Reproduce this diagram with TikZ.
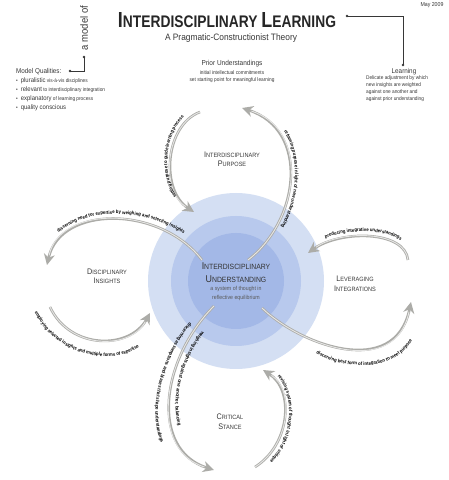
\documentclass[tikz,border=0pt]{standalone}
\usepackage{fontspec}
\setmainfont{Liberation Sans}[FakeStretch=0.9]
\usepackage{graphicx}
\usetikzlibrary{decorations.text,arrows.meta}
\definecolor{ringA}{RGB}{212,223,243}
\definecolor{ringB}{RGB}{184,201,237}
\definecolor{ringC}{RGB}{163,184,231}
\definecolor{arrowgray}{RGB}{172,172,168}
\definecolor{txtgray}{RGB}{55,55,55}
\newcommand\Ini[1]{\scalebox{1.3}{#1}}
\newcommand\arrowfont{\fontsize{4.8}{5}\selectfont\bfseries}
\tikzset{
  arw/.style={draw=arrowgray, line width=2.6pt, -{Stealth[length=11pt,width=11pt,inset=3.5pt]},
     postaction={draw=white!70!arrowgray, line width=0.9pt, -, shorten >=10pt}},
  atext/.style={decorate, decoration={text along path, text={|\arrowfont|#1}, text align=center}},
  lbl/.style={font=\fontsize{6.2}{9}\selectfont, align=center, text=txtgray, inner sep=0pt},
  small/.style={font=\fontsize{5.3}{7}\selectfont, text=txtgray, inner sep=0pt},
  dotc/.style={fill=txtgray},
}
\begin{document}
\begin{tikzpicture}[x=1pt,y=1pt]
\useasboundingbox (0,0) rectangle (448,480);
% circles
\node[circle, fill=ringA, minimum size=176pt, inner sep=0pt] (ringout) at (236,199) {};
\node[circle, fill=ringB, minimum size=130pt, inner sep=0pt] (ringmid) at (236,199) {};
\node[circle, fill=ringC, minimum size=96pt, inner sep=0pt] (ringin) at (236,199) {};
% title
\node[text=black!85, inner sep=0pt] (title) at (227,460) {\resizebox{218pt}{15pt}{\bfseries \Ini{I}NTERDISCIPLINARY \Ini{L}EARNING}};
\node[text=txtgray, inner sep=0pt] (subtitle) at (231,442) {\resizebox{132pt}{!}{\fontsize{10}{10}\selectfont A Pragmatic-Constructionist Theory}};
\node[small, font=\fontsize{5.8}{6}\selectfont] (date) at (432,475) {May 2009};
% learning connector
\coordinate (tdot) at (347,464);
\coordinate (ldot) at (403,415);
\draw[txtgray, line width=0.6pt] (tdot) -| (ldot);
\fill[dotc] (tdot) circle (1.4pt);
\fill[dotc] (ldot) circle (1.4pt);
\node[small, font=\fontsize{7}{7}\selectfont] (learn) at (404,408) {Learning};
\node[small, anchor=north west, align=left] (learntext) at (366,404.5) {Delicate adjustment by which\\new insights are weighted\\against one another and\\against prior understanding};
% model of connector
\node[text=txtgray, rotate=90, inner sep=0pt, font=\fontsize{10.5}{10.5}\selectfont] (modelof) at (84,452) {a model of};
\coordinate (mdot) at (84,423);
\coordinate (mcorner) at (84,409);
\coordinate (qdot) at (70,409);
\draw[txtgray, line width=0.6pt] (mdot) -- (mcorner) -- (qdot);
\fill[dotc] (mdot) circle (1.4pt);
\fill[dotc] (qdot) circle (1.4pt);
\node[small, anchor=west, font=\fontsize{7}{7}\selectfont] (mq) at (16,408) {Model Qualities:};
\node[small, anchor=west] (b1) at (16,399) {\textbullet\hspace{3pt}{\fontsize{6.6}{7}\selectfont pluralistic} vis-à-vis disciplines};
\node[small, anchor=west] (b2) at (16,390) {\textbullet\hspace{3pt}{\fontsize{6.6}{7}\selectfont relevant} to interdisciplinary integration};
\node[small, anchor=west] (b3) at (16,381) {\textbullet\hspace{3pt}{\fontsize{6.6}{7}\selectfont explanatory} of learning process};
\node[small, anchor=west] (b4) at (16,372) {\textbullet\hspace{3pt}{\fontsize{6.6}{7}\selectfont quality conscious}};
% prior understandings
\node[small, font=\fontsize{7.2}{7}\selectfont] (prior) at (232,416) {Prior Understandings};
\node[small, align=center] (priortext) at (232,403.5) {initial intellectual commitments\\set starting point for meaningful learning};
% labels
\node[lbl] (purpose) at (232,320.5) {\Ini{I}NTERDISCIPLINARY\\\Ini{P}URPOSE};
\node[lbl] (insights) at (107,203.5) {\Ini{D}ISCIPLINARY\\\Ini{I}NSIGHTS};
\node[lbl, font=\fontsize{6.2}{10}\selectfont] (leverage) at (355,196) {\Ini{L}EVERAGING\\\Ini{I}NTEGRATIONS};
\node[lbl, font=\fontsize{6.2}{10}\selectfont] (critical) at (230,58) {\Ini{C}RITICAL\\\Ini{S}TANCE};
\node[lbl, font=\fontsize{7.6}{13.6}\selectfont, text=black!80] (ctitle) at (236,207.5) {\Ini{I}NTERDISCIPLINARY\\\Ini{U}NDERSTANDING};
\node[lbl, font=\fontsize{5.8}{9}\selectfont, text=black!65] (csub) at (236,186.5) {a system of thought in\\reflective equilibrium};
% arrow endpoints
\coordinate (a1s) at (200,368); \coordinate (a1e) at (194,268);
\coordinate (a2s) at (248,220); \coordinate (a2e) at (242,372);
\coordinate (a3s) at (202,220); \coordinate (a3e) at (47,215);
\coordinate (a4s) at (50,173);  \coordinate (a4e) at (150,167);
\coordinate (a5s) at (408,220); \coordinate (a5e) at (308,227);
\coordinate (a6s) at (262,172); \coordinate (a6e) at (411,178);
\coordinate (a7s) at (214,174); \coordinate (a7e) at (214,10);
\coordinate (a8s) at (255,13);  \coordinate (a8e) at (263,110);
% arrows
\draw[arw] (a1s) .. controls (165,355) and (160,290) .. (a1e);
\draw[arw] (a2s) .. controls (300,260) and (310,350) .. (a2e);
\draw[arw] (a3s) .. controls (160,275) and (60,275) .. (a3e);
\draw[arw] (a4s) .. controls (70,130) and (130,130) .. (a4e);
\draw[arw] (a5s) .. controls (405,250) and (340,250) .. (a5e);
\draw[arw] (a6s) .. controls (300,135) and (395,100) .. (a6e);
\draw[arw] (a7s) .. controls (160,120) and (150,30) .. (a7e);
\draw[arw] (a8s) .. controls (290,35) and (295,90) .. (a8e);
% arrow texts
\path[atext={setting purpose to guide learning process}] (188,271) .. controls (157,293) and (161,358) .. (198,372);
\path[atext={reframing purpose in light of new understanding}] (248,376) .. controls (315,354) and (305,259) .. (252,218);
\path[atext={discerning need for expertise by weighing and selecting insights}] (42,219) .. controls (57,281) and (163,281) .. (208,224);
\path[atext={employing selected insights and multiple forms of expertise}] (30,180) .. controls (50,115) and (130,112) .. (148,142);
\path[atext={producing integrative understandings}] (304,231) .. controls (338,256) and (410,256) .. (413,220);
\path[atext={discerning best form of integration to meet purpose}] (296,141) .. controls (330,106) and (412,99) .. (420,163);
\path[atext={discerning assumptions and biases that shape understandings}] (195,164) .. controls (157,124) and (145,60) .. (165,30);
\path[atext={weighing insights against one another, balancing}] (211,158) .. controls (177,127) and (167,70) .. (183,42);
\path[atext={revising system of thought in light of critique}] (267,113) .. controls (300,92) and (295,34) .. (259,9);
\end{tikzpicture}
\end{document}
